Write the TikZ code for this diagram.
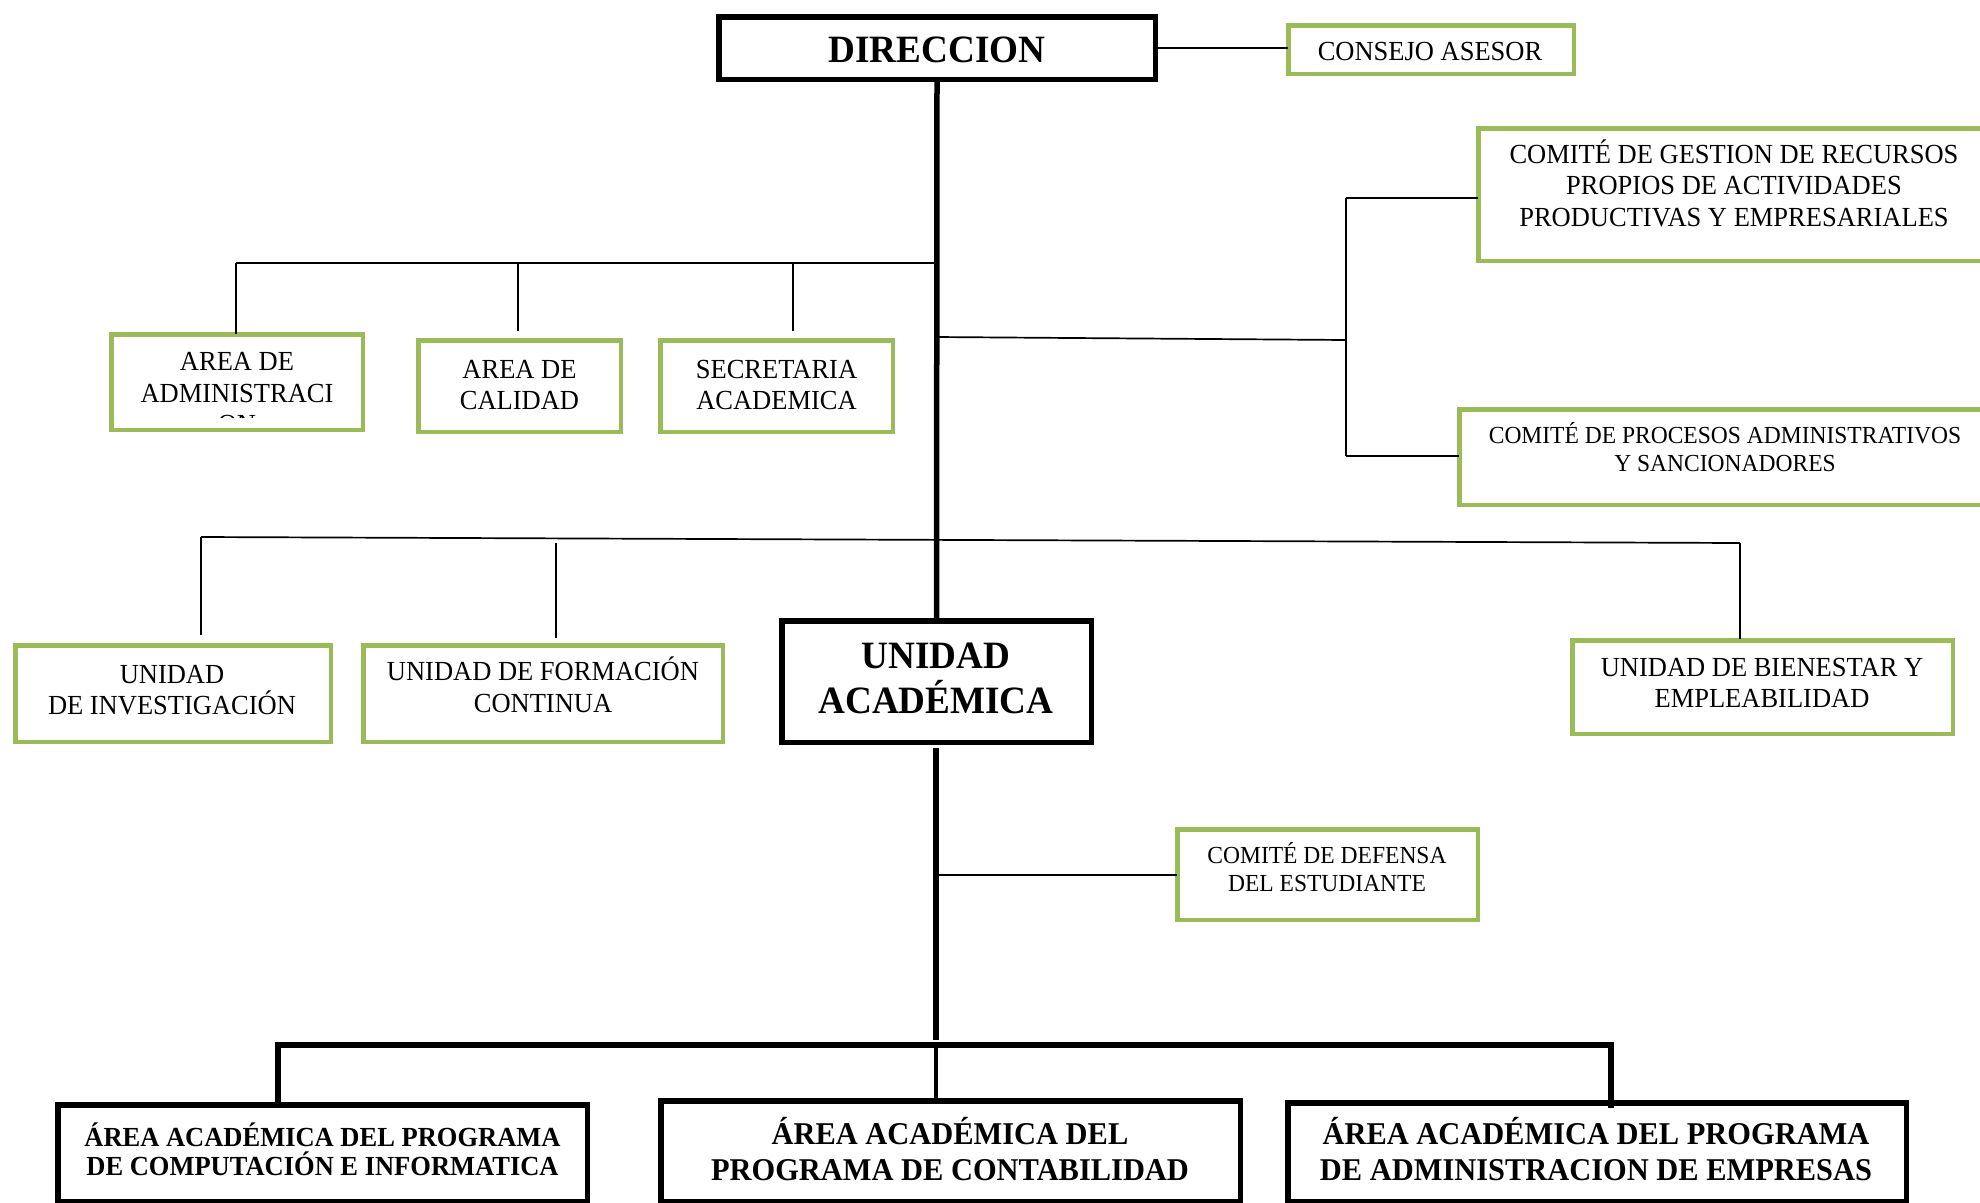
\documentclass[tikz,border=0pt]{standalone}
\usepackage{fontspec}
\setmainfont{Liberation Serif}[FakeStretch=0.96]
\definecolor{gcol}{HTML}{9BBB59}
\newcommand{\fsz}[2]{\fontsize{#1}{#2}\selectfont}
\begin{document}
\begin{tikzpicture}[x=1pt,y=-1pt,
  gbox/.style={draw=gcol, line width=4.5pt, fill=white, inner sep=0pt, outer sep=0pt},
  kbox/.style={draw=black, line width=5.5pt, fill=white, inner sep=0pt, outer sep=0pt},
  txt/.style={align=center, inner sep=0pt, font=\fsz{27.6}{31.5}},
  smalltxt/.style={align=center, inner sep=0pt, font=\fsz{24.5}{28.5}},
  bigbold/.style={align=center, inner sep=0pt, font=\bfseries\fsz{38.7}{45}},
  thinline/.style={line width=1.7pt},
  thickline/.style={line width=5.5pt},
]
\clip (0,0) rectangle (1980,1202);
\fill[white] (0,0) rectangle (1980,1202);

% boxes
\node[kbox, minimum width=436.5pt, minimum height=62.5pt] (dir) at (937,48) {};
\node[gbox, minimum width=285.5pt, minimum height=48.5pt] (cons) at (1431,49.5) {};
\node[gbox, minimum width=529.5pt, minimum height=132.5pt] (gest) at (1743,194.5) {};
\node[gbox, minimum width=548.5pt, minimum height=95.5pt] (proc) at (1733.5,457) {};
\node[gbox, minimum width=251.5pt, minimum height=95.5pt] (adm) at (237,382) {};
\node[gbox, minimum width=202.5pt, minimum height=91.5pt] (cal) at (519.5,386) {};
\node[gbox, minimum width=232.5pt, minimum height=91.5pt] (sec) at (776.5,386) {};
\node[gbox, minimum width=315.5pt, minimum height=96.5pt] (inv) at (173,693.5) {};
\node[gbox, minimum width=359.5pt, minimum height=96.5pt] (form) at (543,693.5) {};
\node[kbox, minimum width=309.5pt, minimum height=121.5pt] (ua) at (936.5,681.5) {};
\node[gbox, minimum width=380.5pt, minimum height=93.5pt] (bien) at (1762.5,687) {};
\node[gbox, minimum width=300.5pt, minimum height=90.5pt] (def) at (1327.5,874.5) {};
\node[kbox, minimum width=529.5pt, minimum height=96.5pt] (b1) at (322.5,1153) {};
\node[kbox, minimum width=579.5pt, minimum height=100.5pt] (b2) at (950.5,1151) {};
\node[kbox, minimum width=618.5pt, minimum height=98.5pt] (b3) at (1597,1152) {};

% texts
\node[bigbold] (dirT) at (937,49.5) {DIRECCION};
\node[txt] (consT) at (1430,51.5) {CONSEJO ASESOR};
\node[txt] (gestT) at (1734,183) {COMITÉ DE GESTION DE RECURSOS\\PROPIOS DE ACTIVIDADES\\PRODUCTIVAS Y EMPRESARIALES};
\node[smalltxt] (procT) at (1725,447) {COMITÉ DE PROCESOS ADMINISTRATIVOS\\Y SANCIONADORES};
\coordinate (admClip) at (365,417);
\begin{scope}
\clip (adm.north west) rectangle (admClip);
\node[txt] (admT) at (237,393.5) {AREA DE\\ADMINISTRACI\\ON};
\end{scope}
\node[txt] (calT) at (519.5,385) {AREA DE\\CALIDAD};
\node[txt] (secT) at (776.5,385) {SECRETARIA\\ACADEMICA};
\node[txt] (invT) at (172,690) {UNIDAD\\DE INVESTIGACIÓN};
\node[txt] (formT) at (543,685) {UNIDAD DE FORMACIÓN\\CONTINUA};
\node[bigbold] (uaT) at (936,678) {UNIDAD\\ACADÉMICA};
\node[txt] (bienT) at (1762,683) {UNIDAD DE BIENESTAR Y\\EMPLEABILIDAD};
\node[smalltxt, font=\fsz{24.5}{28}] (defT) at (1327,867) {COMITÉ DE DEFENSA\\DEL ESTUDIANTE};
\node[align=center, inner sep=0pt, font=\bfseries\fsz{27.6}{29}] (b1T) at (322.5,1149) {ÁREA ACADÉMICA DEL PROGRAMA\\DE COMPUTACIÓN E INFORMATICA};
\node[align=center, inner sep=0pt, font=\bfseries\fsz{31.7}{36}] (b2T) at (950,1149) {ÁREA ACADÉMICA DEL\\PROGRAMA DE CONTABILIDAD};
\node[align=center, inner sep=0pt, font=\bfseries\fsz{31.7}{36}] (b3T) at (1596,1149) {ÁREA ACADÉMICA DEL PROGRAMA\\DE ADMINISTRACION DE EMPRESAS};

% connectors
\draw[thinline] (dir.east) -- (dir.east -| cons.west);
\draw[thickline] (dir.south) -- (ua.north);

\coordinate (h1L) at (236,263);
\coordinate (h1R) at (936,263);
\coordinate (h1b) at (518,263);
\coordinate (h1bE) at (518,331);
\coordinate (h1c) at (793,263);
\coordinate (h1cE) at (793,331);
\draw[thinline] (h1L) -- (h1R);
\draw[thinline] (h1L) -- (h1L |- adm.north);
\draw[thinline] (h1b) -- (h1bE);
\draw[thinline] (h1c) -- (h1cE);

\coordinate (m1) at (936,337);
\coordinate (m2) at (1346,340);
\coordinate (rvT) at (1346,198);
\coordinate (rvB) at (1346,456);
\draw[thinline] (m1) -- (m2);
\draw[thinline] (rvT) -- (rvB);
\draw[thinline] (rvT) -- (rvT -| gest.west);
\draw[thinline] (rvB) -- (rvB -| proc.west);

\coordinate (h2L) at (201,537);
\coordinate (h2R) at (1740,543);
\coordinate (invTop) at (201,635);
\coordinate (fA) at (556,543);
\coordinate (fB) at (556,638);
\coordinate (bienTop) at (1740,639);
\draw[thinline] (h2L) -- (h2R);
\draw[thinline] (h2L) -- (invTop);
\draw[thinline] (fA) -- (fB);
\draw[thinline] (h2R) -- (bienTop);

\coordinate (s2a) at (936,748);
\coordinate (s2b) at (936,1040);
\draw[thickline] (s2a) -- (s2b);
\coordinate (dj) at (936,875);
\draw[thinline] (dj) -- (dj -| def.west);

\coordinate (bL) at (278,1045);
\coordinate (bR) at (1611,1045);
\coordinate (bM) at (936,1045);
\coordinate (bRE) at (1611,1108);
\draw[thickline, line join=miter] (bL |- b1.north) -- (bL) -- (bR) -- (bRE);
\draw[line width=4.5pt] (bM) -- (bM |- b2.north);
\end{tikzpicture}
\end{document}
